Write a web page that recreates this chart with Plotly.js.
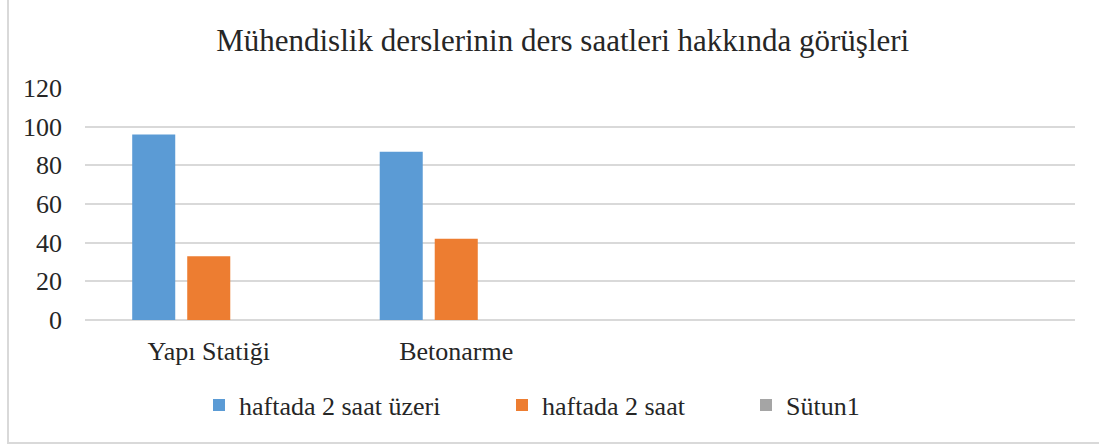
<!DOCTYPE html>
<html>
<head>
<meta charset="utf-8">
<script src="https://cdn.plot.ly/plotly-3.0.1.min.js"></script>
<style>
  html, body { margin: 0; padding: 0; background: #fff; }
  #wrap { position: relative; width: 1099px; height: 445px; }
  #chart { position: absolute; left: 0; top: 0; width: 1099px; height: 445px; }
  #frame { position: absolute; left: 7px; top: -2px; width: 1100px; height: 444px;
           border-left: 2px solid #d9d9d9; border-bottom: 2px solid #d9d9d9; pointer-events: none; }
</style>
</head>
<body>
<div id="wrap">
  <div id="chart"></div>
  <div id="frame"></div>
</div>
<script>
const categories = ["Yapı Statiği", "Betonarme"];
const seriesNames = ["haftada 2 saat üzeri", "haftada 2 saat", "Sütun1"];
const over2 = [96, 87];
const exactly2 = [33, 42];
const sutun1 = [null, null];
const yTicks = [0, 20, 40, 60, 80, 100, 120];
const colors = ["#5B9BD5", "#ED7D31", "#A5A5A5"];

const FONT = "Liberation Serif";
const TXT = "#262626";

const values = [over2, exactly2, sutun1];
const legendIds = ["legend", "legend2", "legend3"];
const traces = values.map((v, i) => ({
  type: "bar",
  name: seriesNames[i],
  x: categories,
  y: v,
  marker: { color: colors[i] },
  legend: legendIds[i],
  hoverinfo: "x+y+name"
}));

// legend entry text left edges (px, container) as in the reference layout
const legendTextLeft = [239, 542, 786];
function legendBox(i) {
  return {
    orientation: "h",
    xref: "container", x: (legendTextLeft[i] - 40) / 1099, xanchor: "left",
    yref: "container", y: 1 - 405 / 445, yanchor: "middle",
    font: { family: FONT, size: 26, color: TXT },
    bgcolor: "rgba(0,0,0,0)",
    borderwidth: 0,
    itemclick: false,
    itemdoubleclick: false
  };
}

const layout = {
  width: 1099,
  height: 445,
  paper_bgcolor: "rgba(0,0,0,0)",
  plot_bgcolor: "#fff",
  font: { family: FONT, color: TXT },
  margin: { l: 85, r: 24, t: 88, b: 125, pad: 0 },
  title: {
    text: "Mühendislik derslerinin ders saatleri hakkında görüşleri",
    font: { family: FONT, size: 31, color: TXT },
    xref: "container", x: 0.512, xanchor: "center",
    yref: "container", y: 0.91, yanchor: "middle"
  },
  barmode: "group",
  bargap: 0.333,
  bargroupgap: 0.218,
  xaxis: {
    type: "category",
    categoryorder: "array",
    categoryarray: categories,
    range: [-0.5, 3.5],
    showgrid: false,
    zeroline: false,
    showline: false,
    ticks: "",
    ticklabelstandoff: 13,
    tickfont: { family: FONT, size: 26, color: TXT },
    fixedrange: true
  },
  yaxis: {
    range: [0, 120],
    tickvals: yTicks,
    ticktext: yTicks.map(String),
    showgrid: true,
    gridcolor: "#d9d9d9",
    gridwidth: 1.5,
    zeroline: true,
    zerolinecolor: "#d9d9d9",
    zerolinewidth: 1.5,
    showline: false,
    ticks: "",
    ticklabelstandoff: 22,
    tickfont: { family: FONT, size: 26, color: TXT },
    fixedrange: true
  },
  showlegend: true,
  legend: legendBox(0),
  legend2: legendBox(1),
  legend3: legendBox(2)
};

Plotly.newPlot("chart", traces, layout, { displayModeBar: false });
</script>
</body>
</html>
